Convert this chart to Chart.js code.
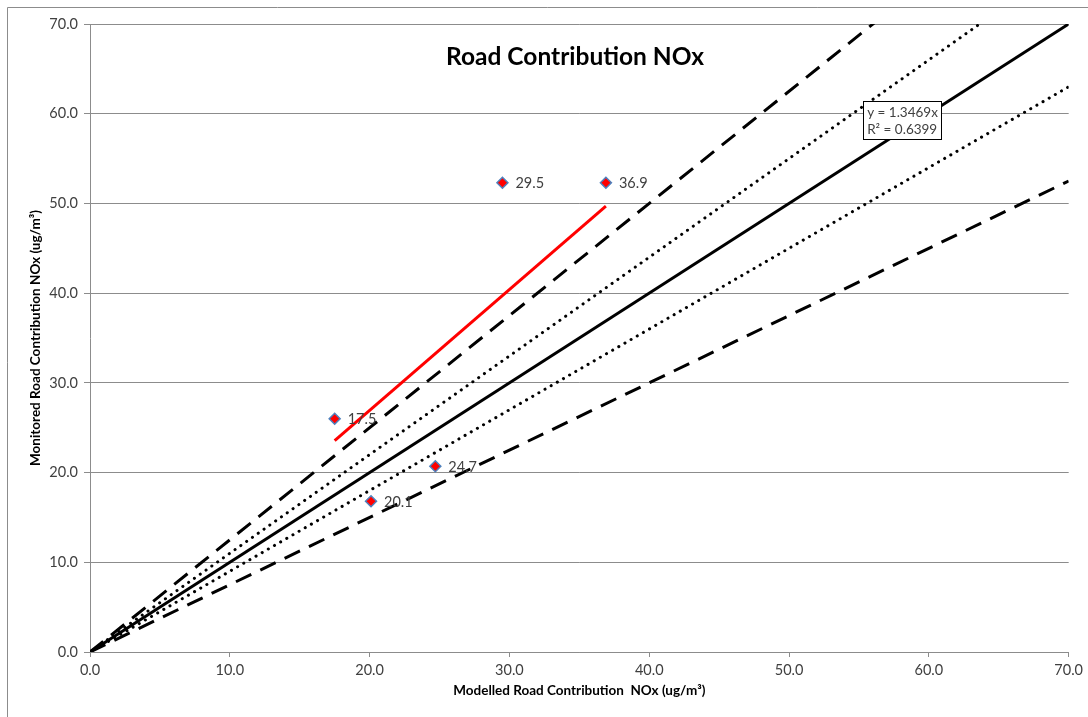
<!DOCTYPE html>
<html>
<head>
<meta charset="utf-8">
<script src="https://cdn.jsdelivr.net/npm/chart.js@4/dist/chart.umd.min.js"></script>
<style>
  html, body { margin: 0; padding: 0; background: #fff; }
  #wrap { width: 1088px; height: 717px; position: relative; }
</style>
</head>
<body>
<div id="wrap"><canvas id="c" width="1088" height="717"></canvas></div>
<script>
// Site results: modelled vs monitored road contribution NOx (ug/m3)
const modelled = [17.5, 29.5, 36.9, 24.7, 20.1];
const monitored = [26.0, 52.3, 52.3, 20.7, 16.8];

// Linear fit through origin
const trendSlope = 1.3469;
const trendR2 = 0.6399;

// Agreement guide lines (y = k * x)
const guideSolid = [1.0];
const guideDotted = [1.1, 0.9];
const guideDashed = [1.25, 0.75];

// Axis range / ticks
const axisMin = 0;
const axisMax = 70;
const tickStep = 10;

const FONT = "Lato, 'Liberation Sans', sans-serif";
const TXT = '#404040';
const GRID = '#8c8c8c';

function guideLine(k) {
  return [{ x: axisMin, y: axisMin * k }, { x: axisMax, y: axisMax * k }];
}

const trendX = [Math.min(...modelled), Math.max(...modelled)];
const trendPts = trendX.map(x => ({ x: x, y: x * trendSlope }));

const datasets = [
  {
    label: 'sites',
    data: modelled.map((x, i) => ({ x: x, y: monitored[i] })),
    showLine: false,
    pointStyle: 'rectRot',
    pointRadius: 5.5,
    pointBackgroundColor: '#ff0000',
    pointBorderColor: '#4f81bd',
    pointBorderWidth: 1.5,
    order: 0
  },
  {
    label: 'trend',
    data: trendPts,
    showLine: true,
    borderColor: '#ff0000',
    borderWidth: 3,
    pointRadius: 0,
    order: 1
  }
];
guideSolid.forEach(k => datasets.push({
  label: 'y=' + k + 'x', data: guideLine(k), showLine: true,
  borderColor: '#000', borderWidth: 3, pointRadius: 0, order: 2
}));
guideDotted.forEach(k => datasets.push({
  label: 'y=' + k + 'x', data: guideLine(k), showLine: true,
  borderColor: '#000', borderWidth: 3, borderDash: [0.1, 7], borderCapStyle: 'round',
  pointRadius: 0, order: 3
}));
guideDashed.forEach(k => datasets.push({
  label: 'y=' + k + 'x', data: guideLine(k), showLine: true,
  borderColor: '#000', borderWidth: 3, borderDash: [17, 10],
  pointRadius: 0, order: 4
}));

// Outer frame, chart title, point value labels and fit equation box
const decorations = {
  id: 'decorations',
  beforeDraw(chart) {
    const ctx = chart.ctx;
    ctx.save();
    ctx.fillStyle = '#fff';
    ctx.fillRect(0, 0, chart.width, chart.height);
    ctx.strokeStyle = '#8c8c8c';
    ctx.lineWidth = 1;
    ctx.beginPath();
    ctx.moveTo(7.5, chart.height);
    ctx.lineTo(7.5, 7.5);
    ctx.lineTo(chart.width, 7.5);
    ctx.stroke();
    ctx.restore();
  },
  afterDatasetsDraw(chart) {
    const ctx = chart.ctx;
    const xs = chart.scales.x, ys = chart.scales.y;
    ctx.save();
    // title
    ctx.fillStyle = '#000';
    ctx.font = 'bold 24.5px ' + FONT;
    ctx.textAlign = 'center';
    ctx.textBaseline = 'middle';
    ctx.fillText('Road Contribution NOx', 575, 57);

    // value labels beside each site
    const meta = chart.getDatasetMeta(0);
    ctx.font = '14.5px ' + FONT;
    ctx.fillStyle = TXT;
    ctx.textAlign = 'left';
    meta.data.forEach((pt, i) => {
      ctx.fillText(modelled[i].toFixed(1), pt.x + 13, pt.y + 1);
    });

    // fit equation box
    const bx = xs.getPixelForValue(55.3);
    const by = ys.getPixelForValue(61.4);
    const bw = 78, bh = 38;
    ctx.fillStyle = '#fff';
    ctx.fillRect(bx, by, bw, bh);
    ctx.strokeStyle = '#000';
    ctx.lineWidth = 1;
    ctx.strokeRect(Math.round(bx) + 0.5, Math.round(by) + 0.5, bw, bh);
    ctx.fillStyle = TXT;
    ctx.font = '13.5px ' + FONT;
    ctx.textAlign = 'left';
    ctx.fillText('y = ' + trendSlope.toFixed(4) + 'x', bx + 4, by + 11);
    ctx.fillText('R\u00B2 = ' + trendR2.toFixed(4), bx + 4, by + 28);
    ctx.restore();
  }
};

new Chart(document.getElementById('c'), {
  type: 'scatter',
  data: { datasets: datasets },
  plugins: [decorations],
  options: {
    responsive: false,
    animation: false,
    layout: { padding: { left: 24, right: 19, top: 24, bottom: 14 } },
    plugins: { legend: { display: false }, tooltip: { enabled: false } },
    scales: {
      x: {
        type: 'linear', min: axisMin, max: axisMax,
        ticks: {
          stepSize: tickStep, color: TXT, padding: 5,
          font: { family: FONT, size: 14.5 },
          callback: v => v.toFixed(1)
        },
        grid: { drawOnChartArea: false, color: GRID, tickLength: 5, tickColor: GRID },
        border: { color: GRID, width: 1 },
        title: {
          display: true, text: 'Modelled Road Contribution  NOx (ug/m\u00B3)',
          color: '#000', font: { family: FONT, size: 13.5, weight: 'bold' }, padding: { top: 4 }
        },
        afterFit(s) { s.height = 717 - 652 - 14; }
      },
      y: {
        type: 'linear', min: axisMin, max: axisMax,
        ticks: {
          stepSize: tickStep, color: TXT, padding: 6,
          font: { family: FONT, size: 14.5 },
          callback: v => v.toFixed(1)
        },
        grid: { color: GRID, tickLength: 6, tickColor: GRID, lineWidth: 1 },
        border: { color: GRID, width: 1 },
        title: {
          display: true, text: 'Monitored Road Contribution NOx (ug/m\u00B3)',
          color: '#000', font: { family: FONT, size: 13.5, weight: 'bold' }, padding: { bottom: 4 }
        },
        afterFit(s) { s.width = 90 - 24; }
      }
    }
  }
});
</script>
</body>
</html>
